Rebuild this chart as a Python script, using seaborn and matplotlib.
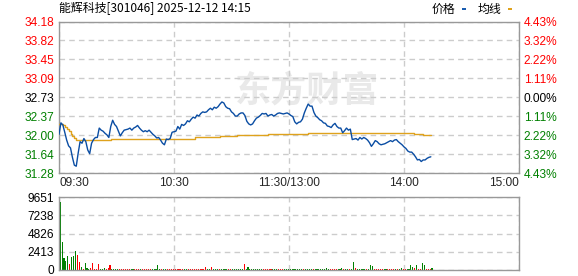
import numpy as np
import pandas as pd
import matplotlib
matplotlib.use("Agg")
import matplotlib.pyplot as plt
from matplotlib.patches import Rectangle
import seaborn as sns

# ---------------- data ----------------
title_text = "能辉科技[301046] 2025-12-12 14:15"
legend_labels = ["价格", "均线"]
watermark = "东方财富"
price_tick_labels = ["34.18", "33.82", "33.45", "33.09", "32.73", "32.37", "32.00", "31.64", "31.28"]
pct_tick_labels = ["4.43%", "3.32%", "2.22%", "1.11%", "0.00%", "1.11%", "2.22%", "3.32%", "4.43%"]
time_labels = ["09:30", "10:30", "11:30/13:00", "14:00", "15:00"]
vol_tick_labels = ["9651", "7238", "4826", "2413", "0"]
price_min, price_max = 31.28, 34.18
vol_max = 9651
session_minutes = 240

prices = [
    32.02, 32.24, 32.20, 32.06, 31.91, 31.80, 31.76, 31.58, 31.43, 31.41,
    31.66, 31.88, 31.85, 31.94, 31.88, 31.72, 31.65, 31.85, 31.92, 31.96,
    31.96, 32.14, 32.10, 32.08, 32.04, 32.01, 31.96, 32.17, 32.29, 32.21,
    32.17, 32.08, 31.99, 32.05, 32.10, 32.11, 32.12, 32.14, 32.10, 32.14,
    32.16, 32.19, 32.14, 32.10, 32.07, 32.09, 32.07, 32.10, 32.06, 32.02,
    31.99, 31.95, 31.96, 31.91, 31.85, 31.82, 31.93, 31.92, 31.94, 32.06,
    32.07, 32.08, 32.17, 32.12, 32.21, 32.19, 32.22, 32.28, 32.26, 32.31,
    32.35, 32.33, 32.39, 32.37, 32.42, 32.45, 32.44, 32.45, 32.49, 32.52,
    32.49, 32.54, 32.52, 32.55, 32.60, 32.64, 32.62, 32.55, 32.52, 32.51,
    32.45, 32.42, 32.37, 32.37, 32.41, 32.43, 32.43, 32.38, 32.27, 32.22,
    32.20, 32.22, 32.28, 32.33, 32.35, 32.38, 32.42, 32.41, 32.42, 32.37,
    32.39, 32.40, 32.37, 32.39, 32.42, 32.43, 32.42, 32.41, 32.42, 32.43,
    32.41, 32.38, 32.36, 32.26, 32.22, 32.25, 32.26, 32.31, 32.43, 32.52,
    32.60, 32.56, 32.56, 32.44, 32.37, 32.34, 32.30, 32.28, 32.24, 32.23,
    32.18, 32.17, 32.15, 32.20, 32.23, 32.17, 32.14, 32.14, 32.05, 32.09,
    32.14, 32.10, 32.12, 31.92, 31.93, 31.94, 31.91, 31.96, 31.93, 31.96,
    31.94, 31.91, 31.86, 31.79, 31.84, 31.90, 31.88, 31.84, 31.82, 31.83,
    31.84, 31.86, 31.88, 31.90, 31.88, 31.91, 31.92, 31.88, 31.85, 31.82,
    31.78, 31.75, 31.70, 31.68, 31.68, 31.64, 31.59, 31.53, 31.54, 31.50,
    31.53, 31.53, 31.56, 31.58, 31.59,
]

avg_minutes = [0, 1, 2, 3, 4, 5, 6, 7, 8, 9, 27, 42, 71, 84, 93, 109, 130, 166, 185, 190, 194]
avg_values = [32.22, 32.21, 32.19, 32.16, 32.12, 32.08, 32.03, 31.99, 31.95, 31.92,
              31.93, 31.94, 31.97, 31.99, 32.01, 32.03, 32.05, 32.04, 32.02, 32.00, 32.00]

volumes = [
    8950, 3660, 1630, 1190, 1850, 790, 1720, 1850, 2530, 1980,
    1010, 400, 180, 925, 260, 180, 260, 925, 130, 130,
    790, 130, 180, 260, 180, 260, 660, 130, 100, 100,
    130, 100, 130, 100, 100, 100, 100, 130, 100, 100,
    100, 100, 100, 100, 100, 100, 100, 100, 100, 100,
    100, 660, 100, 100, 100, 100, 100, 100, 100, 100,
    100, 100, 100, 100, 100, 100, 100, 100, 100, 100,
    100, 100, 100, 100, 100, 100, 400, 100, 100, 400,
    100, 100, 100, 100, 100, 100, 100, 100, 100, 100,
    100, 100, 100, 100, 100, 100, 790, 130, 400, 100,
    100, 100, 100, 100, 100, 100, 100, 100, 100, 100,
    100, 100, 100, 100, 100, 100, 100, 100, 100, 100,
    100, 100, 100, 100, 100, 100, 100, 100, 100, 100,
    100, 100, 100, 100, 100, 100, 100, 100, 100, 260,
    100, 100, 100, 100, 100, 100, 100, 260, 100, 100,
    100, 100, 130, 1020, 260, 100, 100, 100, 100, 100,
    100, 100, 660, 530, 100, 100, 100, 100, 100, 100,
    100, 100, 100, 100, 100, 100, 100, 100, 260, 100,
    100, 100, 100, 660, 400, 300, 660, 130, 130, 925,
    660, 130, 130, 130, 260,
]
vol_direction = (
    "gggggrgggr" "rgrgggrrrr" "rgggrrrggg" "grrrrrrggr" "rrgrrrrrgg"
    "gggrggrrrr" "rrrrrggrrr" "rrrrrrrggr" "gggrggggrr" "ggggggrggg"
    "ggggggrrrr" "rgggrrrggg" "gggggggrgg" "ggrggggggg" "grrrrgggrg"
    "grggrggggg" "rgggrrrrrg" "grrrrgrggr" "rggggrgrrg" "grrrg"
)

# ---------------- styling ----------------
W, H = 578, 276
RED, GREEN, BLACK = "#ff0000", "#008000", "#000000"
BLUE_LINE = "#0a4da3"
ORANGE = "#dfa21c"
GRID = "#cccccc"
FRAME = "#999999"
BAR_OFFSET = 0.6  # bars sit slightly right of the minute start

sns.set_theme(style="white")
plt.rcParams["font.family"] = ["Liberation Sans", "Noto Sans CJK SC", "DejaVu Sans"]
FS = 8.6

fig = plt.figure(figsize=(W / 100, H / 100), dpi=100)
fig.patch.set_facecolor("white")

def fx(px):
    return px / W

def fy(py):
    return 1 - py / H

ax1 = fig.add_axes([fx(59), fy(173), fx(519) - fx(59), fy(21.5) - fy(173)])
ax2 = fig.add_axes([fx(59), fy(270), fx(519) - fx(59), fy(197) - fy(270)])

# watermark
ax1.text(0.539, 0.54, watermark, transform=ax1.transAxes, ha="center", va="center",
         fontsize=26, fontweight="bold", color="#e9e9e9", family=["Noto Sans CJK SC"], zorder=0)

# price + average lines
minutes = np.arange(len(prices))
sns.lineplot(x=avg_minutes, y=avg_values, ax=ax1, color=ORANGE, lw=1.0,
             drawstyle="steps-post", estimator=None, sort=False, zorder=3)
sns.lineplot(x=minutes, y=prices, ax=ax1, color=BLUE_LINE, lw=1.0,
             estimator=None, sort=False, zorder=4)

# volume bars
df_vol = pd.DataFrame({"minute": np.arange(len(volumes)) + BAR_OFFSET, "volume": volumes,
                       "dir": list(vol_direction)})
sns.barplot(data=df_vol, x="minute", y="volume", hue="dir",
            palette={"r": RED, "g": GREEN}, native_scale=True, dodge=False,
            width=0.55, legend=False, errorbar=None, saturation=1, linewidth=0, ax=ax2)

# axes config
xt = np.linspace(0, session_minutes, len(time_labels))
for ax in (ax1, ax2):
    ax.set_xlim(0, session_minutes)
    ax.set_xticks(xt)
    ax.set_xlabel("")
    ax.set_ylabel("")
    for s in ax.spines.values():
        s.set_color(FRAME)
        s.set_linewidth(1)
    ax.grid(True, linestyle=(0, (4, 3)), color=GRID, lw=1)
    ax.tick_params(length=0)
    ax.set_axisbelow(True)

ax1.set_ylim(price_min, price_max)
pt = np.linspace(price_max, price_min, len(price_tick_labels))
ax1.set_yticks(pt)
ax1.set_yticklabels(price_tick_labels, fontsize=FS)
ax1.tick_params(axis="y", pad=3.5)
mid = len(price_tick_labels) // 2
for i, lab in enumerate(ax1.get_yticklabels()):
    lab.set_color(RED if i < mid else (BLACK if i == mid else GREEN))

ax1.set_xticklabels(time_labels, fontsize=FS)
ax1.tick_params(axis="x", pad=3)
xl = ax1.get_xticklabels()
xl[0].set_ha("left")
xl[-1].set_ha("right")

ax2.set_xticklabels([])
ax2.set_ylim(0, vol_max)
ax2.set_yticks(np.linspace(vol_max, 0, len(vol_tick_labels)))
ax2.set_yticklabels(vol_tick_labels, fontsize=FS, color=BLACK)
ax2.tick_params(axis="y", pad=3.5)

axr = ax1.twinx()
axr.set_ylim(price_min, price_max)
axr.set_yticks(pt)
axr.set_yticklabels(pct_tick_labels, fontsize=FS)
axr.tick_params(length=0, pad=3.5)
for s in axr.spines.values():
    s.set_visible(False)
for i, lab in enumerate(axr.get_yticklabels()):
    lab.set_color(RED if i < mid else (BLACK if i == mid else GREEN))
axr.grid(False)

# title & legend
fig.text(fx(59), fy(9), title_text, ha="left", va="center", fontsize=FS,
         family=["Noto Sans CJK SC", "DejaVu Sans"], color=BLACK)
fig.text(fx(432), fy(9), legend_labels[0], ha="left", va="center", fontsize=FS,
         family=["Noto Sans CJK SC"], color=BLACK)
fig.text(fx(478), fy(9), legend_labels[1], ha="left", va="center", fontsize=FS,
         family=["Noto Sans CJK SC"], color=BLACK)
fig.add_artist(Rectangle((fx(462), fy(10)), fx(4), 2 / H, transform=fig.transFigure,
                         color="#1a5cb0", lw=0))
fig.add_artist(Rectangle((fx(508), fy(10)), fx(4), 2 / H, transform=fig.transFigure,
                         color=ORANGE, lw=0))

fig.savefig("out.png", dpi=100, facecolor="white")
